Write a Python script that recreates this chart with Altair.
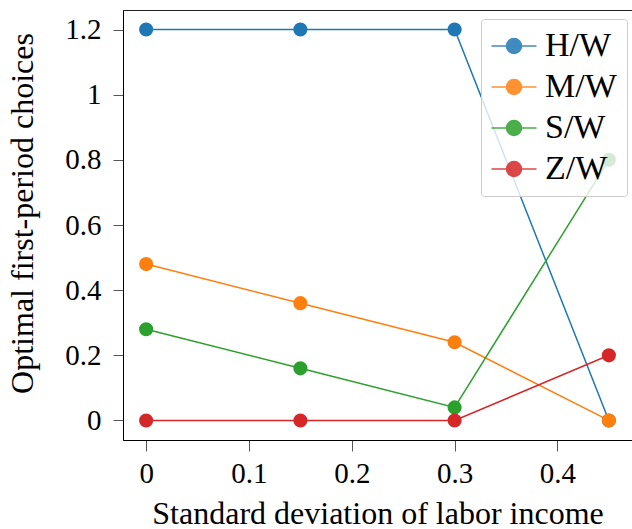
import altair as alt
import pandas as pd

x_vals = [0.0, 0.15, 0.30, 0.45]
series_names = ["H/W", "M/W", "S/W", "Z/W"]
hw = [1.2, 1.2, 1.2, 0.0]
mw = [0.48, 0.36, 0.24, 0.0]
sw = [0.28, 0.16, 0.04, 0.8]
zw = [0.0, 0.0, 0.0, 0.2]
colors = ["#1f77b4", "#ff7f0e", "#2ca02c", "#d62728"]
x_ticks = [0, 0.1, 0.2, 0.3, 0.4]
y_ticks = [0, 0.2, 0.4, 0.6, 0.8, 1.0, 1.2]

rows = []
for name, vals in zip(series_names, [hw, mw, sw, zw]):
    for i, (xv, yv) in enumerate(zip(x_vals, vals)):
        rows.append({"sd": xv, "value": yv, "series": name, "order": i})
df = pd.DataFrame(rows)

FONT = "Liberation Serif"
sym_path = ("M-1.5,0L1.5,0M0.5,0A0.5,0.5,0,1,1,-0.5,0A0.5,0.5,0,1,1,0.5,0Z")

color = alt.Color(
    "series:N",
    scale=alt.Scale(domain=series_names, range=colors),
    legend=alt.Legend(
        title=None,
        orient="none",
        legendX=358,
        legendY=9,
        zindex=2,
        symbolType=sym_path,
        symbolSize=900,
        symbolStrokeWidth=1.5,
        symbolOpacity=0.85,
        symbolOffset=6,
        labelOffset=14,
        labelFont=FONT,
        labelFontSize=34,
        labelColor="black",
        rowPadding=7,
        padding=10,
        fillColor="rgba(255,255,255,0.8)",
        strokeColor="#cccccc",
        cornerRadius=3,
    ),
)

xenc = alt.X(
    "sd:Q",
    scale=alt.Scale(domain=[-0.0225, 0.4725], nice=False, zero=False),
    axis=alt.Axis(
        values=x_ticks,
        format="~g",
        title="Standard deviation of labor income",
        titleX=254.5,
        titleY=83,
        titleAlign="center",
        titleBaseline="alphabetic",
        grid=False,
        tickSize=11,
        tickColor="#555555",
        labelPadding=8,
    ),
)
yenc = alt.Y(
    "value:Q",
    scale=alt.Scale(domain=[-0.06, 1.26], nice=False, zero=False),
    axis=alt.Axis(
        values=y_ticks,
        format="~g",
        title="Optimal first-period choices",
        titleX=-101,
        titleY=203,
        titleAngle=-90,
        titleAlign="center",
        titleBaseline="middle",
        grid=False,
        tickSize=10,
        tickColor="#555555",
        labelPadding=12,
    ),
)

base = alt.Chart(df).encode(x=xenc, y=yenc, color=color, detail="series:N", order="order:Q")

lines = base.mark_line(strokeWidth=1.5)
points = base.mark_point(filled=True, size=200, opacity=1)

chart = (
    alt.layer(lines, points)
    .properties(
        width=509,
        height=430,
        autosize=alt.AutoSizeParams(type="none"),
        padding={"left": 123, "top": 10, "right": 0, "bottom": 89},
    )
    .configure_view(stroke="#222222", strokeWidth=1)
    .configure_axis(
        labelFont=FONT,
        labelFontSize=29,
        labelColor="black",
        titleFont=FONT,
        titleFontSize=32,
        titleFontWeight="normal",
        titleColor="black",
        domainColor="black",
    )
)

chart.save("out.html", embed_options={"renderer": "svg", "actions": False})
